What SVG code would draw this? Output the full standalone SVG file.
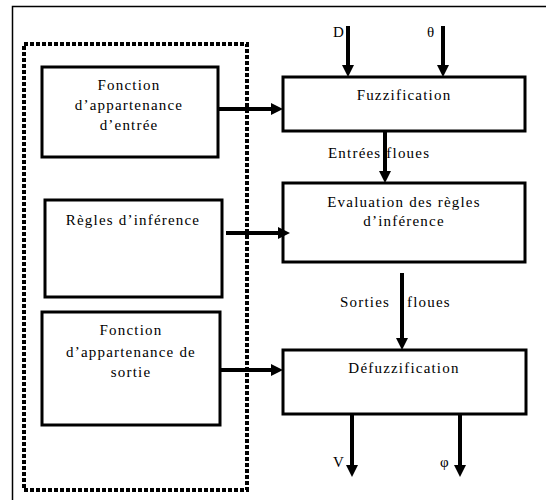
<svg xmlns="http://www.w3.org/2000/svg" width="546" height="500" viewBox="0 0 546 500">
  <style>
    .box { fill: none; stroke: #000; stroke-width: 3; }
    .frame { fill: none; stroke: #000; stroke-width: 1.5; }
    .dotted { fill: none; stroke: #000; stroke-width: 4; stroke-dasharray: 4 2; }
    .wire { fill: none; stroke: #000; stroke-width: 4; marker-end: url(#head); }
    text { font-size: 15px; fill: #000; letter-spacing: 1.2px; }
    .c { text-anchor: middle; }
  </style>
  <defs>
    <marker id="head" markerUnits="userSpaceOnUse" markerWidth="12" markerHeight="12" refX="4" refY="6" orient="auto">
      <path d="M0,0 L12,6 L0,12 z" fill="#000"/>
    </marker>
  </defs>
  <rect width="546" height="500" fill="#fff"/>

  <!-- outer frame edges -->
  <path class="frame" d="M12.5,500 V6.5 H546"/>

  <!-- knowledge base enclosure -->
  <rect id="knowledge-base" class="dotted" x="24" y="44" width="223" height="446"/>

  <g id="connectors">
    <line class="wire" x1="348" y1="26" x2="348" y2="69"/>
    <line class="wire" x1="443" y1="26" x2="443" y2="69"/>
    <line class="wire" x1="218" y1="109" x2="275" y2="109"/>
    <line class="wire" x1="226" y1="233" x2="282" y2="233"/>
    <line class="wire" x1="220" y1="370" x2="275" y2="370"/>
    <line class="wire" x1="385" y1="131" x2="385" y2="175"/>
    <line class="wire" x1="402" y1="273" x2="402" y2="342"/>
    <line class="wire" x1="352" y1="414" x2="352" y2="469"/>
    <line class="wire" x1="460" y1="414" x2="460" y2="469"/>
  </g>

  <g font-family="'Liberation Serif', 'Times New Roman', 'DejaVu Serif', serif">
    <g id="labels">
      <text x="333" y="37">D</text>
      <text x="427" y="37">θ</text>
      <text x="328" y="158">Entrées floues</text>
      <text x="340" y="307">Sorties</text>
      <text x="407" y="307">floues</text>
      <text x="333" y="467">V</text>
      <text x="440" y="467">φ</text>
    </g>

    <g id="input-membership">
      <rect class="box" x="42" y="67" width="176" height="90"/>
      <text class="c" x="129" y="90">Fonction</text>
      <text class="c" x="129" y="110">d’appartenance</text>
      <text class="c" x="129" y="130">d’entrée</text>
    </g>

    <g id="inference-rules">
      <rect class="box" x="45" y="200" width="177" height="97"/>
      <text class="c" x="133" y="225">Règles d’inférence</text>
    </g>

    <g id="output-membership">
      <rect class="box" x="42" y="312" width="178" height="113"/>
      <text class="c" x="131" y="335">Fonction</text>
      <text class="c" x="131" y="357">d’appartenance de</text>
      <text class="c" x="131" y="377">sortie</text>
    </g>

    <g id="fuzzification">
      <rect class="box" x="283" y="77" width="242" height="54"/>
      <text class="c" x="404" y="100">Fuzzification</text>
    </g>

    <g id="rule-evaluation">
      <rect class="box" x="283" y="183" width="242" height="79"/>
      <text class="c" x="404" y="207">Evaluation des règles</text>
      <text class="c" x="404" y="226">d’inférence</text>
    </g>

    <g id="defuzzification">
      <rect class="box" x="283" y="350" width="243" height="64"/>
      <text class="c" x="404" y="373">Défuzzification</text>
    </g>
  </g>
</svg>
